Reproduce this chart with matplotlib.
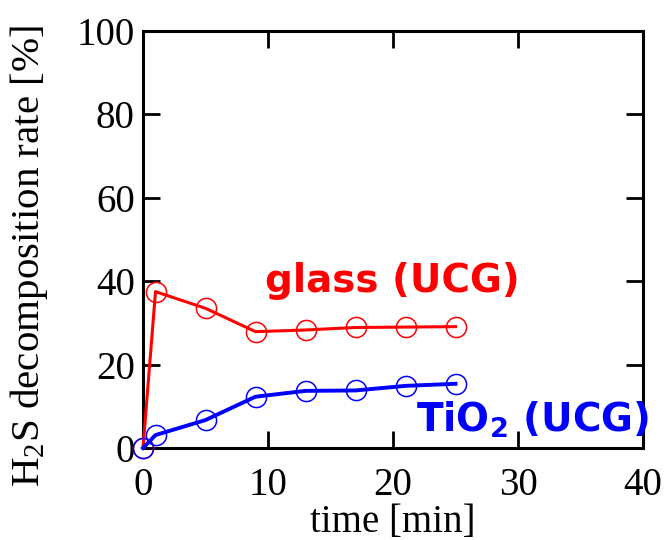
import matplotlib
matplotlib.use("Agg")
import matplotlib.pyplot as plt

time_min = [0, 1, 5, 9, 13, 17, 21, 25]
glass_ucg = [0, 37.5, 33.5, 27.9, 28.3, 28.9, 29.0, 29.1]
tio2_ucg = [0, 3.1, 6.7, 12.3, 13.7, 13.8, 14.9, 15.4]
x_ticks = [0, 10, 20, 30, 40]
y_ticks = [0, 20, 40, 60, 80, 100]

plt.rcParams['font.family'] = ['Liberation Serif', 'DejaVu Serif']
plt.rcParams['mathtext.fontset'] = 'custom'
plt.rcParams['mathtext.rm'] = 'Liberation Serif'
plt.rcParams['mathtext.it'] = 'Liberation Serif:italic'
plt.rcParams['mathtext.bf'] = 'DejaVu Sans:bold'

fig = plt.figure(figsize=(6.7, 5.4), dpi=100)
ax = fig.add_axes([143/670, 1 - 448/540, 500/670, 417/540])

ax.plot(time_min, glass_ucg, color='#ff0000', lw=2.2, marker='o', ms=14.5,
        mfc='none', mec='#ff0000', mew=1.1, zorder=3, clip_on=False)
ax.plot(time_min, tio2_ucg, color='#0000ff', lw=2.8, marker='o', ms=14.5,
        mfc='none', mec='#0000ff', mew=1.1, zorder=4, clip_on=False)

ax.set_xlim(0, 40)
ax.set_ylim(0, 100)
ax.set_xticks(x_ticks)
ax.set_yticks(y_ticks)
ax.tick_params(direction='in', length=12, width=2, top=True, right=True,
               labelsize=28, pad=6)
ax.tick_params(axis='x', pad=14)
for s in ax.spines.values():
    s.set_linewidth(2.2)

ax.set_xlabel('time [min]', fontsize=28, labelpad=0)
ax.set_ylabel('H$_2$S decomposition rate [%]', fontsize=29.5)
ax.yaxis.set_label_coords(-0.185, 0.46)

ax.text(9.76, 37.3, 'glass (UCG)', color='#ff0000', fontsize=28,
        fontweight='bold', family=['DejaVu Sans'], va='baseline', clip_on=False)
ax.text(21.8, 3.9, 'TiO$\\mathbf{_2}$ (UCG)', color='#0000ff', fontsize=28,
        fontweight='bold', family=['DejaVu Sans'], va='baseline', clip_on=False)

fig.text(0.5, 1.0 + 0.005, 'H₂S分解率', ha='center', va='bottom', fontsize=28,
         fontweight='bold', family=['Noto Sans CJK JP', 'DejaVu Sans'])

fig.savefig('out.png', dpi=100)
